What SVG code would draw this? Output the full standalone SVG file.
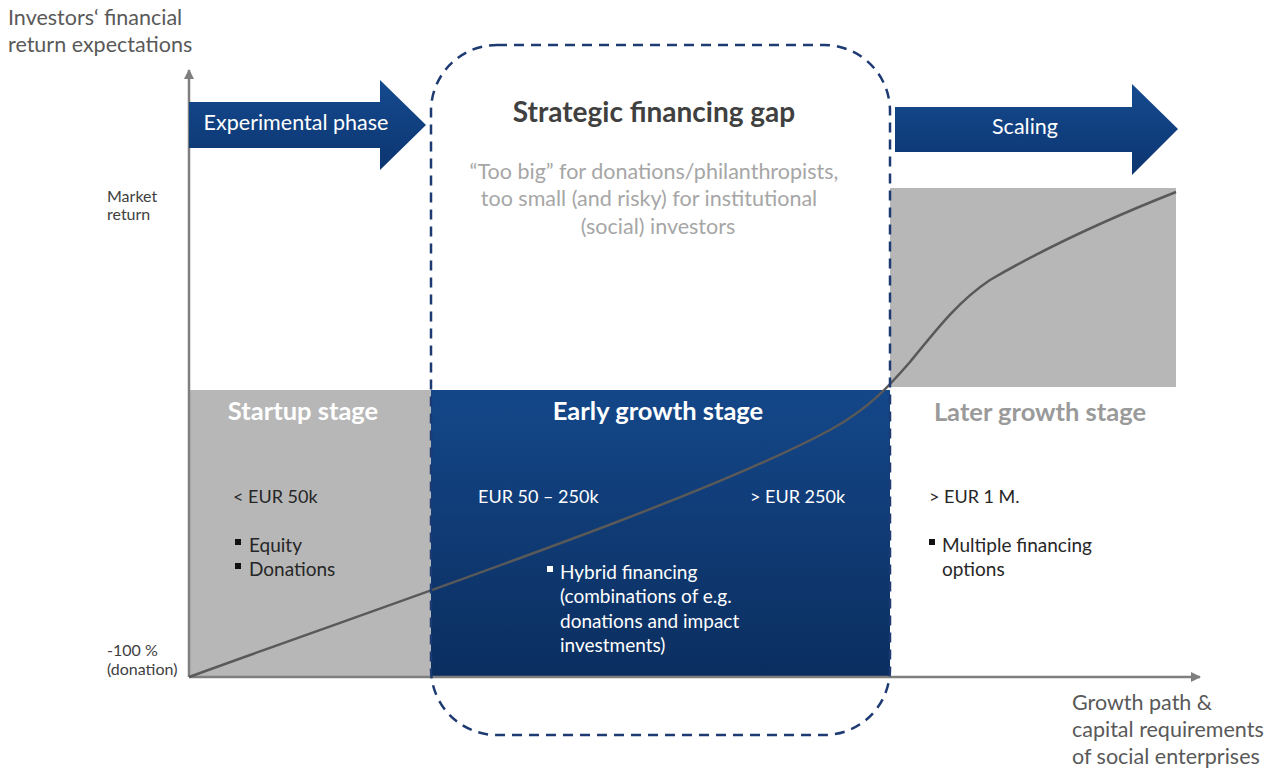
<svg xmlns="http://www.w3.org/2000/svg" width="1274" height="770" viewBox="0 0 1274 770">
<defs>
<linearGradient id="gBlue" x1="0" y1="0" x2="0" y2="1"><stop offset="0" stop-color="#144789"/><stop offset="1" stop-color="#0b2e5f"/></linearGradient>
<linearGradient id="gArrow" x1="0" y1="0" x2="0" y2="1"><stop offset="0" stop-color="#154a8f"/><stop offset="1" stop-color="#0c3570"/></linearGradient>
<marker id="ah" viewBox="0 0 10 10" refX="9" refY="5" markerWidth="4" markerHeight="4" orient="auto"><path d="M0,0 L10,5 L0,10 z" fill="#7f7f7f"/></marker>
<style>
text{font-family:Lato,"Open Sans","Liberation Sans",sans-serif}
.ax{font-size:21.5px;fill:#595959}
.sm{font-size:16px;fill:#404040}
.wt{fill:#fff;font-size:21.5px}
.st{font-weight:bold;font-size:25.5px}
.body{font-size:19px;fill:#262626}
.bw{font-size:19px;fill:#fff}
.eur{font-size:18px}
.gray{fill:#b7b7b7}
.gt{font-size:21.5px;fill:#a6a6a6}
</style>
</defs>
<rect width="1274" height="770" fill="#fff"/>

<g id="axis-labels">
<text class="ax" x="8" y="25">Investors‘ financial</text>
<text class="ax" x="8" y="52">return expectations</text>
<text class="sm" x="107" y="202">Market</text>
<text class="sm" x="107" y="220">return</text>
<text class="sm" x="107" y="656">-100 %</text>
<text class="sm" x="107" y="675">(donation)</text>
<text class="ax" x="1072" y="710">Growth path &amp;</text>
<text class="ax" x="1072" y="737">capital requirements</text>
<text class="ax" x="1072" y="764">of social enterprises</text>
</g>

<g id="startup-stage">
<rect class="gray" x="189" y="390" width="242" height="287"/>
<text class="st" x="303" y="420" text-anchor="middle" fill="#fff">Startup stage</text>
<text class="body eur" x="233" y="503">&lt; EUR 50k</text>
<rect x="235" y="539" width="6" height="6" fill="#111"/>
<text class="body" x="249" y="552">Equity</text>
<rect x="235" y="563" width="6" height="6" fill="#111"/>
<text class="body" x="249" y="576">Donations</text>
</g>

<g id="early-growth-stage">
<rect x="431" y="390" width="459" height="287" fill="url(#gBlue)"/>
<text class="st" x="658" y="420" text-anchor="middle" fill="#fff">Early growth stage</text>
<text class="bw eur" x="478" y="503">EUR 50 – 250k</text>
<text class="bw eur" x="750" y="503">&gt; EUR 250k</text>
<rect x="547" y="566" width="6" height="6" fill="#fff"/>
<text class="bw" x="560" y="579">Hybrid financing</text>
<text class="bw" x="560" y="603">(combinations of e.g.</text>
<text class="bw" x="560" y="628">donations and impact</text>
<text class="bw" x="560" y="652">investments)</text>
</g>

<g id="later-growth-stage">
<rect class="gray" x="890" y="188" width="286" height="199"/>
<text class="st" x="1040" y="421" text-anchor="middle" fill="#9a9a9a">Later growth stage</text>
<text class="body eur" x="929" y="503">&gt; EUR 1 M.</text>
<rect x="929" y="539" width="6" height="6" fill="#111"/>
<text class="body" x="942" y="552">Multiple financing</text>
<text class="body" x="942" y="576">options</text>
</g>

<g id="connectors">
<line x1="189" y1="677" x2="189" y2="70" stroke="#7f7f7f" stroke-width="2.5" marker-end="url(#ah)"/>
<line x1="189" y1="677" x2="1200" y2="677" stroke="#7f7f7f" stroke-width="2.5" marker-end="url(#ah)"/>
<path d="M189,677 C400,600 700,500 830,430 C870,408 890,385 910,362 C940,325 960,300 990,280 C1050,245 1110,218 1176,192" fill="none" stroke="#595959" stroke-width="2.5"/>
</g>

<g id="experimental-phase">
<path d="M189,102 H380 V80 L426,125 L380,170 V148 H189 Z" fill="url(#gArrow)"/>
<text class="wt" x="296" y="130" text-anchor="middle">Experimental phase</text>
</g>

<g id="scaling">
<path d="M895,107 H1132 V84 L1178,129 L1132,175 V152 H895 Z" fill="url(#gArrow)"/>
<text class="wt" x="1025" y="134" text-anchor="middle">Scaling</text>
</g>

<g id="financing-gap">
<rect x="431" y="45" width="459" height="690" rx="66" ry="66" fill="none" stroke="#1d3b72" stroke-width="2.5" stroke-dasharray="10 7"/>
<text x="654" y="122" text-anchor="middle" font-size="28" font-weight="bold" fill="#404040">Strategic financing gap</text>
<text class="gt" x="654" y="179" text-anchor="middle">“Too big” for donations/philanthropists,</text>
<text class="gt" x="649" y="206" text-anchor="middle">too small (and risky) for institutional</text>
<text class="gt" x="658" y="234" text-anchor="middle">(social) investors</text>
</g>
</svg>
